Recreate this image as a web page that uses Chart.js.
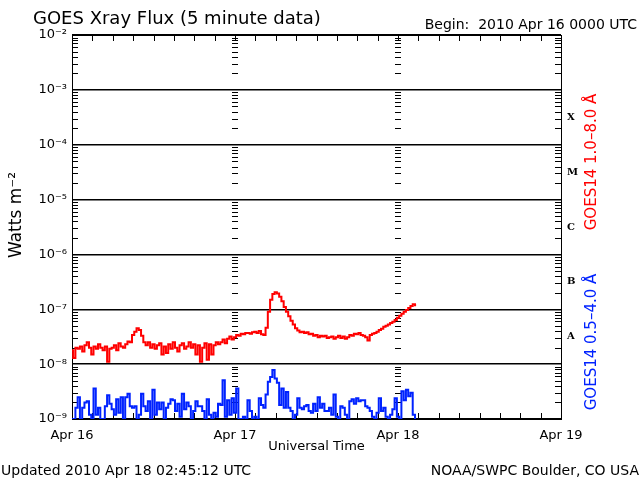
<!DOCTYPE html>
<html><head><meta charset="utf-8">
<script src="https://cdn.jsdelivr.net/npm/chart.js@4/dist/chart.umd.min.js"></script>
<style>html,body{margin:0;padding:0;background:#fff;}canvas{display:block;}</style>
</head><body>
<canvas id="c" width="640" height="480"></canvas>
<script>
// ---- labels / metadata ----
const chartTitle = 'GOES Xray Flux (5 minute data)';
const beginText = 'Begin:  2010 Apr 16 0000 UTC';
const updatedText = 'Updated 2010 Apr 18 02:45:12 UTC';
const creditText = 'NOAA/SWPC Boulder, CO USA';
const xTitle = 'Universal Time';
const yTitle = 'Watts m⁻²';
const longLabel = 'GOES14 1.0–8.0 Å';
const shortLabel = 'GOES14 0.5–4.0 Å';
const dayLabels = ['Apr 16', 'Apr 17', 'Apr 18', 'Apr 19'];
const decadeExponents = [-9, -8, -7, -6, -5, -4, -3, -2];
const flareClasses = ['A', 'B', 'C', 'M', 'X'];
const flareClassExponents = [-7.5, -6.5, -5.5, -4.5, -3.5];
const sampleMinutes = 20;   // spacing of the samples below, from Apr 16 00:00 UTC

// GOES14 1.0-8.0 Å flux (W m^-2), every 20 minutes
const longFlux = [
 1.8e-8,1.3e-8,2.0e-8, 1.9e-8,2.1e-8,1.7e-8, 2.2e-8,2.5e-8,2.0e-8, 1.5e-8,2.1e-8,1.9e-8,
 2.3e-8,2.0e-8,1.8e-8, 2.1e-8,1.1e-8,1.9e-8, 2.0e-8,2.2e-8,1.8e-8, 2.4e-8,2.1e-8,2.0e-8,
 2.3e-8,2.6e-8,2.5e-8, 3.4e-8,3.9e-8,4.5e-8, 4.2e-8,3.3e-8,2.5e-8, 2.2e-8,2.5e-8,2.0e-8,
 2.3e-8,1.9e-8,2.2e-8, 2.4e-8,1.5e-8,2.1e-8, 1.6e-8,2.3e-8,1.9e-8, 2.5e-8,2.0e-8,1.7e-8,
 2.2e-8,2.4e-8,1.9e-8, 2.1e-8,2.5e-8,2.0e-8, 2.3e-8,1.5e-8,2.2e-8, 1.1e-8,2.0e-8,2.4e-8,
 1.2e-8,2.3e-8,1.5e-8, 2.2e-8,2.5e-8,2.3e-8, 2.5e-8,2.8e-8,2.4e-8, 2.9e-8,3.2e-8,2.8e-8,
 3.1e-8,3.4e-8,3.3e-8, 3.6e-8,3.5e-8,3.7e-8, 3.7e-8,3.6e-8,3.8e-8, 3.9e-8,3.7e-8,4.0e-8,
 3.5e-8,3.4e-8,4.6e-8, 9.0e-8,1.5e-7,1.9e-7, 2.04e-7,1.95e-7,1.7e-7, 1.4e-7,1.1e-7,9.0e-8,
 7.5e-8,6.2e-8,5.3e-8, 4.5e-8,4.1e-8,3.8e-8, 3.9e-8,3.7e-8,3.8e-8, 3.5e-8,3.6e-8,3.3e-8,
 3.4e-8,3.1e-8,3.3e-8, 3.2e-8,3.3e-8,3.0e-8, 3.1e-8,3.2e-8,2.9e-8, 3.1e-8,3.3e-8,3.0e-8,
 3.2e-8,2.9e-8,3.1e-8, 3.4e-8,3.3e-8,3.6e-8, 3.5e-8,3.7e-8,3.4e-8, 3.3e-8,3.1e-8,2.7e-8,
 3.4e-8,3.6e-8,3.7e-8, 3.9e-8,4.2e-8,4.4e-8, 4.8e-8,5.0e-8,5.3e-8, 5.6e-8,5.9e-8,6.4e-8,
 7.0e-8,7.6e-8,8.3e-8, 9.0e-8,9.7e-8,1.06e-7, 1.15e-7,1.23e-7,1.18e-7
];

// GOES14 0.5-4.0 Å flux (W m^-2), every 20 minutes
const shortFlux = [
 1.0e-9,1.0e-9,1.6e-9, 2.5e-9,1.0e-9,1.6e-9, 2.0e-9,2.1e-9,1.2e-9, 1.0e-9,3.6e-9,1.2e-9,
 1.6e-9,1.0e-9,1.0e-9, 1.7e-9,2.7e-9,1.9e-9, 1.5e-9,1.2e-9,2.3e-9, 1.3e-9,2.5e-9,1.0e-9,
 2.5e-9,2.9e-9,1.7e-9, 1.6e-9,1.7e-9,1.0e-9, 1.2e-9,2.9e-9,1.7e-9, 1.4e-9,2.1e-9,1.0e-9,
 3.4e-9,1.2e-9,2.0e-9, 1.5e-9,2.0e-9,1.0e-9, 1.6e-9,1.9e-9,2.3e-9, 2.2e-9,1.4e-9,1.9e-9,
 1.1e-9,2.9e-9,1.5e-9, 2.0e-9,1.7e-9,1.0e-9, 1.4e-9,2.1e-9,1.7e-9, 1.7e-9,1.4e-9,1.0e-9,
 2.3e-9,1.2e-9,1.0e-9, 1.3e-9,1.1e-9,1.9e-9, 1.8e-9,5.1e-9,1.1e-9, 2.2e-9,1.2e-9,2.4e-9,
 1.3e-9,3.6e-9,1.0e-9, 1.0e-9,1.1e-9,1.0e-9, 2.2e-9,1.4e-9,1.0e-9, 1.1e-9,1.0e-9,2.4e-9,
 1.8e-9,1.6e-9,2.8e-9, 4.8e-9,5.8e-9,7.8e-9, 5.5e-9,4.6e-9,1.8e-9, 3.6e-9,1.6e-9,3.1e-9,
 1.6e-9,1.4e-9,1.0e-9, 1.2e-9,2.4e-9,1.6e-9, 1.5e-9,1.7e-9,1.8e-9, 1.4e-9,1.3e-9,1.9e-9,
 1.4e-9,2.5e-9,1.6e-9, 1.9e-9,1.4e-9,1.4e-9, 1.6e-9,1.2e-9,2.8e-9, 1.1e-9,1.0e-9,1.7e-9,
 1.6e-9,1.2e-9,1.0e-9, 2.1e-9,2.3e-9,1.9e-9, 2.4e-9,2.1e-9,2.2e-9, 2.2e-9,1.7e-9,1.6e-9,
 1.4e-9,1.1e-9,1.0e-9, 1.3e-9,2.4e-9,1.4e-9, 1.6e-9,1.1e-9,1.0e-9, 1.2e-9,1.5e-9,2.4e-9,
 1.1e-9,1.0e-9,3.2e-9, 2.2e-9,3.4e-9,2.6e-9, 3.0e-9,1.2e-9,1.0e-9
];

const SUP = {'-':'⁻','0':'⁰','1':'¹','2':'²','3':'³','4':'⁴','5':'⁵','6':'⁶','7':'⁷','8':'⁸','9':'⁹'};
const sup = n => String(n).split('').map(c => SUP[c]).join('');
const toPoints = arr => arr.map((v, i) => ({x: i * sampleMinutes / 60, y: v}));
const FONT = 'DejaVu Sans';

const framePlugin = {
  id: 'frame',
  beforeDatasetsDraw(chart) {
    const {ctx, chartArea: a, scales} = chart;
    const x = scales.x, y = scales.y;
    ctx.save();
    ctx.strokeStyle = '#000';
    ctx.lineWidth = 1;
    for (let e = -9; e < -2; e++) {
      for (let k = 2; k <= 9; k++) {
        const py = Math.round(y.getPixelForValue(k * Math.pow(10, e))) + 0.5;
        ctx.beginPath();
        ctx.moveTo(a.left, py); ctx.lineTo(a.left + 6, py);
        ctx.moveTo(a.right, py); ctx.lineTo(a.right - 6, py);
        for (let d = 1; d < dayLabels.length - 1; d++) {
          const px = Math.round(x.getPixelForValue(d * 24));
          ctx.moveTo(px - 3, py); ctx.lineTo(px + 3, py);
        }
        ctx.stroke();
      }
    }
    for (let h = 0; h <= 72; h += 3) {
      const px = Math.round(x.getPixelForValue(h)) + 0.5;
      ctx.beginPath();
      ctx.moveTo(px, a.top); ctx.lineTo(px, a.top + 6);
      ctx.moveTo(px, a.bottom); ctx.lineTo(px, a.bottom - 6);
      ctx.stroke();
    }
    ctx.strokeRect(Math.round(a.left) + 0.5, Math.round(a.top) + 0.5, Math.round(a.right - a.left), Math.round(a.bottom - a.top));
    ctx.restore();
  },
  afterDraw(chart) {
    const {ctx} = chart;
    ctx.save();
    ctx.fillStyle = '#000';
    ctx.textBaseline = 'alphabetic';
    ctx.font = '18px "' + FONT + '"';
    ctx.textAlign = 'left';
    ctx.fillText(chartTitle, 33, 24);
    ctx.font = '14px "' + FONT + '"';
    ctx.textAlign = 'right';
    ctx.fillText(beginText, 637, 29);
    ctx.textAlign = 'left';
    ctx.fillText(updatedText, 1, 475);
    ctx.textAlign = 'right';
    ctx.fillText(creditText, 639, 475);
    ctx.font = '15px "' + FONT + '"';
    ctx.textAlign = 'center';
    ctx.textBaseline = 'middle';
    ctx.save();
    ctx.translate(592, 162); ctx.rotate(-Math.PI / 2);
    ctx.fillStyle = '#ff0000'; ctx.fillText(longLabel, 0, 0);
    ctx.restore();
    ctx.save();
    ctx.translate(592, 342); ctx.rotate(-Math.PI / 2);
    ctx.fillStyle = '#0022ff'; ctx.fillText(shortLabel, 0, 0);
    ctx.restore();
    ctx.save();
    ctx.translate(17, 215); ctx.rotate(-Math.PI / 2);
    ctx.font = '17px "' + FONT + '"';
    ctx.fillStyle = '#000'; ctx.fillText(yTitle, 0, 0);
    ctx.restore();
    ctx.restore();
  }
};

new Chart(document.getElementById('c'), {
  type: 'line',
  data: {
    datasets: [
      {label: longLabel, data: toPoints(longFlux), borderColor: '#ff0000', borderWidth: 2,
       pointRadius: 0, stepped: 'middle', yAxisID: 'y'},
      {label: shortLabel, data: toPoints(shortFlux), borderColor: '#0022ff', borderWidth: 2,
       pointRadius: 0, stepped: 'middle', yAxisID: 'y'}
    ]
  },
  options: {
    responsive: false, animation: false, devicePixelRatio: 1,
    layout: {padding: {top: 35, bottom: 26, left: 0, right: 0}},
    plugins: {legend: {display: false}, tooltip: {enabled: false}},
    scales: {
      x: {
        type: 'linear', min: 0, max: 72, position: 'bottom',
        afterBuildTicks: s => { s.ticks = dayLabels.map((d, i) => ({value: i * 24})); },
        ticks: {callback: v => dayLabels[Math.round(v / 24)], color: '#000', padding: 9,
                maxRotation: 0, autoSkip: false, font: {family: FONT, size: 13}},
        grid: {display: false, drawTicks: false}, border: {display: false},
        title: {display: true, text: xTitle, color: '#000', font: {family: FONT, size: 13},
                padding: {top: 0, bottom: 0}},
        afterFit: s => { s.height = 35; }
      },
      y: {
        type: 'logarithmic', min: 1e-9, max: 1e-2, position: 'left',
        afterBuildTicks: s => { s.ticks = decadeExponents.map(e => ({value: Math.pow(10, e)})); },
        ticks: {callback: v => '10' + sup(Math.round(Math.log10(v))), color: '#000', padding: 5,
                font: {family: FONT, size: 13}},
        grid: {color: '#000', lineWidth: 1.5, drawTicks: false}, border: {display: false},
        title: {display: false},
        afterFit: s => { s.width = 72; }
      },
      y2: {
        type: 'logarithmic', min: 1e-9, max: 1e-2, position: 'right',
        afterBuildTicks: s => { s.ticks = flareClassExponents.map(e => ({value: Math.pow(10, e)})); },
        ticks: {callback: (v, i) => flareClasses[i], color: '#000', padding: 6,
                font: {family: 'DejaVu Serif', size: 10, weight: 'bold'}},
        grid: {display: false, drawTicks: false}, border: {display: false},
        afterFit: s => { s.width = 79; }
      }
    }
  },
  plugins: [framePlugin]
});
</script>
</body></html>
